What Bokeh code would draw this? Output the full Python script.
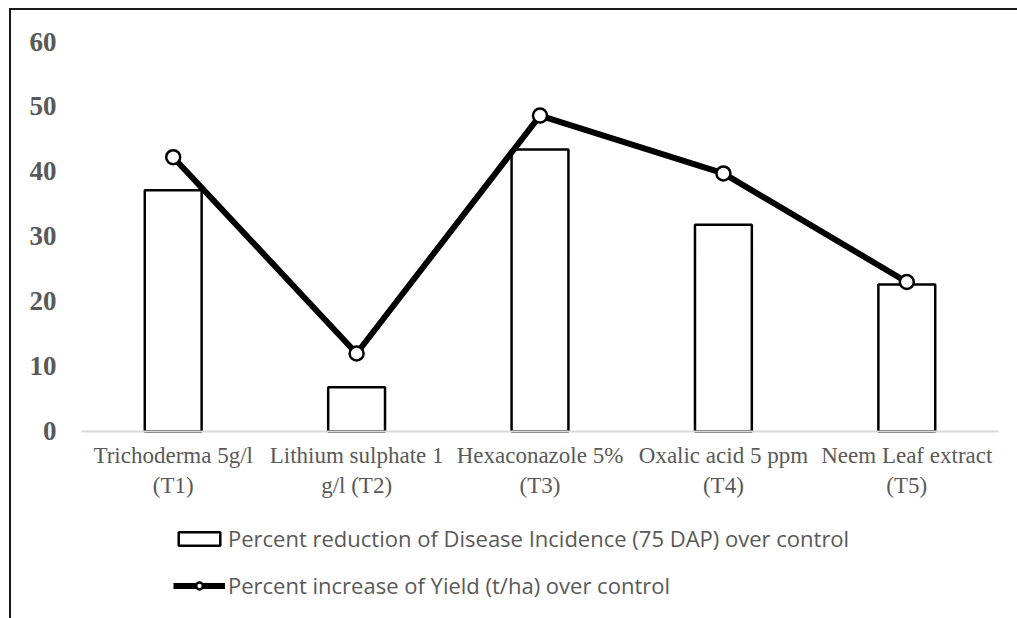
from bokeh.plotting import figure
from bokeh.models import Legend, LegendItem, FactorRange, Range1d, FixedTicker
from bokeh.embed import file_html
from bokeh.resources import INLINE

categories = ["Trichoderma 5g/l\n(T1)", "Lithium sulphate 1\ng/l (T2)", "Hexaconazole 5%\n(T3)",
              "Oxalic acid 5 ppm\n(T4)", "Neem Leaf extract\n(T5)"]
disease_reduction = [37.1, 6.8, 43.4, 31.8, 22.6]
yield_increase = [42.2, 12.0, 48.6, 39.7, 23.0]
y_ticks = [0, 10, 20, 30, 40, 50, 60]

# frame extends below the category axis so the legend can sit inside it
p = figure(x_range=FactorRange(*categories), y_range=Range1d(-28.77, 60),
           frame_width=917, frame_height=577, output_backend="svg", toolbar_location=None,
           min_border_left=70, min_border_top=31, min_border_right=19, min_border_bottom=0)
p.margin = (8, 0, 0, 9)
p.styles = {"border-left": "2px solid #1a1a1a", "border-top": "2px solid #1a1a1a"}
p.outline_line_color = None
p.grid.visible = False
p.background_fill_color = "white"
p.border_fill_color = "white"

bars = p.vbar(x=categories, top=disease_reduction, bottom=0, width=0.31, fill_color="white",
              line_color="black", line_width=2.5)
ln = p.line(x=categories, y=yield_increase, line_color="black", line_width=6)
pts = p.scatter(x=categories, y=yield_increase, size=14, fill_color="white",
                line_color="black", line_width=2.5)

p.yaxis.ticker = FixedTicker(ticks=y_ticks)
p.yaxis.axis_line_color = None
p.yaxis.major_tick_line_color = None
p.yaxis.minor_tick_line_color = None
p.yaxis.major_label_text_font = "Liberation Serif"
p.yaxis.major_label_text_font_style = "bold"
p.yaxis.major_label_text_font_size = "27px"
p.yaxis.major_label_text_color = "#595959"
p.yaxis.major_label_standoff = 19

p.xaxis.fixed_location = 0
p.xaxis.axis_line_color = "#d9d9d9"
p.xaxis.axis_line_width = 2
p.xaxis.major_tick_line_color = None
p.xaxis.minor_tick_line_color = None
p.xaxis.major_label_text_font = "Liberation Serif"
p.xaxis.major_label_text_font_size = "23px"
p.xaxis.major_label_text_color = "#595959"
p.xaxis.major_label_standoff = 6

legend = Legend(items=[
    LegendItem(label="Percent reduction of Disease Incidence (75 DAP) over control", renderers=[bars]),
    LegendItem(label="Percent increase of Yield (t/ha) over control", renderers=[ln, pts]),
], location=(92, 18))
legend.label_text_font = "Open Sans"
legend.label_text_font_size = "22px"
legend.label_text_color = "#595959"
legend.glyph_width = 52
legend.glyph_height = 17
legend.spacing = 17
legend.padding = 0
legend.margin = 0
legend.label_standoff = 3
legend.border_line_color = None
legend.background_fill_alpha = 0
p.add_layout(legend, "center")

open("out.html", "w").write(file_html(p, INLINE))
